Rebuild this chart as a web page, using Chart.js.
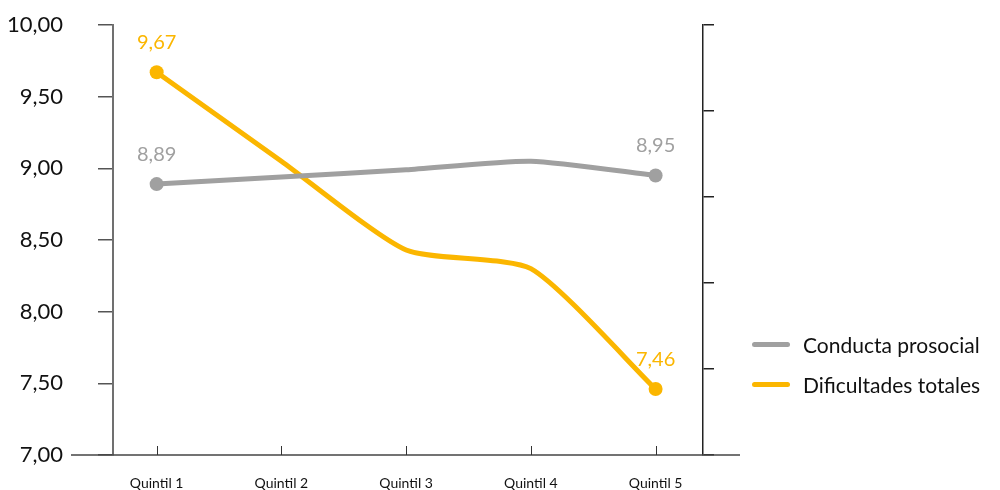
<!DOCTYPE html>
<html>
<head>
<meta charset="utf-8">
<script src="https://cdn.jsdelivr.net/npm/chart.js@4"></script>
<style>
  html, body { margin: 0; padding: 0; background: #fff; }
  #wrap { position: relative; width: 1000px; height: 490px; font-family: Lato, "Open Sans", sans-serif; }
  #legend { position: absolute; left: 752px; top: 324px; }
  .item { display: flex; align-items: center; height: 40px; font-size: 21px; color: #111; }
  .swatch { width: 38px; height: 5px; border-radius: 3px; margin-right: 13px; }
</style>
</head>
<body>
<div id="wrap">
  <canvas id="chart" width="1000" height="490"></canvas>
  <div id="legend"></div>
</div>
<script>
document.addEventListener('DOMContentLoaded', function() {
    const categories = ['Quintil 1', 'Quintil 2', 'Quintil 3', 'Quintil 4', 'Quintil 5'];
    const prosocial = [8.89, 8.94, 8.99, 9.05, 8.95];
    const dificultades = [9.67, 9.05, 8.43, 8.30, 7.46];
    const seriesNames = ['Conducta prosocial', 'Dificultades totales'];
    const seriesColors = ['#a0a0a0', '#fbb600'];

    const FONT = 'Lato, "Open Sans", sans-serif';
    const fmt = v => v.toFixed(2).replace('.', ',');

    function toPoints(values) {
        return values.map((v, i) => ({ x: i + 1, y: v }));
    }
    function endRadius(values) {
        return values.map((v, i) => (i === 0 || i === values.length - 1) ? 7 : 0);
    }

    // labels above first and last points
    const endLabels = {
        id: 'endLabels',
        afterDatasetsDraw(chart) {
            const ctx = chart.ctx;
            ctx.save();
            ctx.font = '20px ' + FONT;
            ctx.textAlign = 'center';
            ctx.textBaseline = 'middle';
            chart.data.datasets.forEach((ds, di) => {
                const meta = chart.getDatasetMeta(di);
                [0, ds.data.length - 1].forEach(i => {
                    const el = meta.data[i];
                    ctx.fillStyle = ds.borderColor;
                    ctx.fillText(fmt(ds.data[i].y), el.x, el.y - 30);
                });
            });
            ctx.restore();
        }
    };

    // baseline running past both axes, with small upward ticks
    const baseline = {
        id: 'baseline',
        afterDraw(chart) {
            const ctx = chart.ctx;
            const a = chart.chartArea;
            ctx.save();
            ctx.strokeStyle = '#444';
            ctx.lineWidth = 1.5;
            ctx.beginPath();
            ctx.moveTo(a.left - 42, a.bottom);
            ctx.lineTo(a.right + 37, a.bottom);
            ctx.stroke();
            ctx.lineWidth = 1;
            ctx.strokeStyle = '#333';
            const xs = chart.scales.x;
            xs.ticks.forEach((t, i) => {
                const px = Math.round(xs.getPixelForTick(i)) + 0.5;
                ctx.beginPath();
                ctx.moveTo(px, a.bottom);
                ctx.lineTo(px, a.bottom - 9);
                ctx.stroke();
            });
            ctx.restore();
        }
    };

    const noPad = s => { s.paddingTop = 0; s.paddingBottom = 0; };

    new Chart(document.getElementById('chart'), {
        type: 'line',
        data: {
            datasets: [
                {
                    label: seriesNames[0],
                    data: toPoints(prosocial),
                    borderColor: seriesColors[0],
                    backgroundColor: seriesColors[0],
                    borderWidth: 5,
                    pointRadius: endRadius(prosocial),
                    pointBorderWidth: 0,
                    tension: 0.2
                },
                {
                    label: seriesNames[1],
                    data: toPoints(dificultades),
                    borderColor: seriesColors[1],
                    backgroundColor: seriesColors[1],
                    borderWidth: 5,
                    pointRadius: endRadius(dificultades),
                    pointBorderWidth: 0,
                    tension: 0.2
                }
            ]
        },
        options: {
            responsive: false,
            animation: false,
            layout: { padding: { top: 25, left: 0, right: 0, bottom: 0 } },
            plugins: { legend: { display: false }, tooltip: { enabled: false } },
            scales: {
                x: {
                    type: 'linear',
                    min: 0.65,
                    max: 5.38,
                    afterBuildTicks: s => { s.ticks = categories.map((c, i) => ({ value: i + 1 })); },
                    afterFit: s => { s.height = 35; s.paddingLeft = 0; s.paddingRight = 0; },
                    border: { display: false },
                    grid: { display: false, drawTicks: false },
                    ticks: {
                        padding: 20,
                        color: '#111',
                        font: { family: FONT, size: 14 },
                        callback: v => categories[v - 1],
                        maxRotation: 0
                    }
                },
                y: {
                    position: 'left',
                    min: 7,
                    max: 10,
                    afterFit: s => { s.width = 113; noPad(s); },
                    border: { color: '#707070', width: 2 },
                    grid: { drawOnChartArea: false, tickLength: 15, color: '#555', lineWidth: 1.5 },
                    ticks: {
                        stepSize: 0.5,
                        padding: 35,
                        color: '#111',
                        font: { family: FONT, size: 22 },
                        callback: v => fmt(v)
                    }
                },
                y2: {
                    position: 'right',
                    min: 0,
                    max: 5,
                    afterFit: s => { s.width = 297; noPad(s); },
                    border: { color: '#222', width: 1.5 },
                    grid: { drawOnChartArea: false, tickLength: 11, color: '#222', lineWidth: 1.5 },
                    ticks: { stepSize: 1, display: false }
                }
            }
        },
        plugins: [endLabels, baseline]
    });

    const legend = document.getElementById('legend');
    seriesNames.forEach((name, i) => {
        const row = document.createElement('div');
        row.className = 'item';
        row.innerHTML = `<span class="swatch" style="background:${seriesColors[i]}"></span>${name}`;
        legend.appendChild(row);
    });
});
</script>
</body>
</html>
